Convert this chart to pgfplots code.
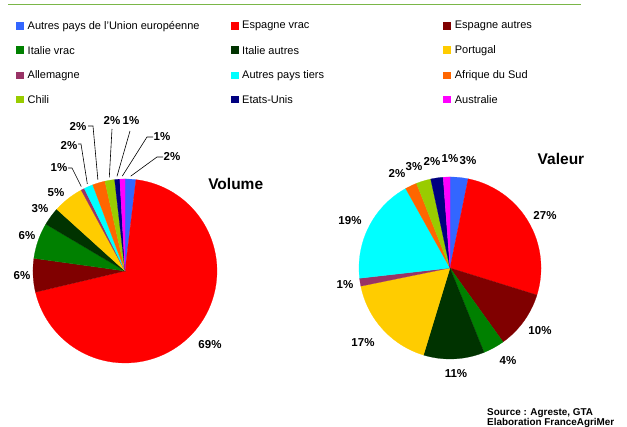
\documentclass[border=0pt]{standalone}
\usepackage{pgfplots}
\usepackage{pgfplotstable}
\pgfplotsset{compat=1.18}
\usepackage{fontspec}
\setmainfont{Liberation Sans}

\definecolor{cUE}{HTML}{3366FF}
\definecolor{cEspVrac}{HTML}{FF0000}
\definecolor{cEspAutres}{HTML}{800000}
\definecolor{cItVrac}{HTML}{008000}
\definecolor{cItAutres}{HTML}{003300}
\definecolor{cPortugal}{HTML}{FFCC00}
\definecolor{cAllemagne}{HTML}{993366}
\definecolor{cTiers}{HTML}{00FFFF}
\definecolor{cAfrique}{HTML}{FF6600}
\definecolor{cChili}{HTML}{99CC00}
\definecolor{cEtatsUnis}{HTML}{000080}
\definecolor{cAustralie}{HTML}{FF00FF}
\definecolor{topline}{HTML}{7AB648}

% shares in %, volume and value
\pgfplotstableread{
key        vol   val
UE         1.9   3.2
EspVrac    69.4  26.6
EspAutres  5.9   10.3
ItVrac     6.3   3.8
ItAutres   3.2   10.8
Portugal   5.4   17.1
Allemagne  0.6   1.4
Tiers      1.6   18.7
Afrique    2.2   2.1
Chili      1.7   2.6
EtatsUnis  0.9   2.2
Australie  0.9   1.2
}\pies

% #1 column, #2 radius ; slices clockwise from 12 o'clock
\newcommand\drawpie[2]{%
  \def\astart{90}%
  \pgfplotsforeachungrouped \i in {0,...,11}{%
    \pgfplotstablegetelem{\i}{#1}\of\pies \let\v\pgfplotsretval
    \pgfplotstablegetelem{\i}{key}\of\pies \let\k\pgfplotsretval
    \pgfmathsetmacro\aend{\astart-3.6*\v}%
    \edef\tmp{\noexpand\addplot[fill=c\k, draw=c\k, line width=0.2pt,
      domain=\aend:\astart, samples=80, variable=\noexpand\t]
      ({#2*cos(\noexpand\t)},{#2*sin(\noexpand\t)}) -- (0,0) -- cycle;}%
    \tmp
    \global\let\astart\aend
  }}

\newcommand\lbl[3]{\node[font=\bfseries\fontsize{11.5}{12}\selectfont, inner sep=0pt] at (#1,#2) {#3};}
\newcommand\leg[4]{%
  \fill[#3] (#1-4,#2-3.8) rectangle (#1+4,#2+3.8);
  \node[anchor=west, inner sep=0pt, font=\fontsize{11}{12}\selectfont] at (#1+7.5,#2) {#4};}

\begin{document}
\begin{tikzpicture}[x=1pt, y=1pt]
\path[use as bounding box] (0,0) rectangle (627,427);

\draw[topline, line width=1.8pt] (8,422.5) -- (581,422.5);

% legend
\leg{20}{400.7}{cUE}{Autres pays de l'Union européenne}
\leg{234.5}{400.7}{cEspVrac}{Espagne vrac}
\leg{447.2}{400.7}{cEspAutres}{Espagne autres}
\leg{20}{376.7}{cItVrac}{Italie vrac}
\leg{234.5}{376.7}{cItAutres}{Italie autres}
\leg{447.2}{376.7}{cPortugal}{Portugal}
\leg{20}{351.5}{cAllemagne}{Allemagne}
\leg{234.5}{351.5}{cTiers}{Autres pays tiers}
\leg{447.2}{351.5}{cAfrique}{Afrique du Sud}
\leg{20}{327.5}{cChili}{Chili}
\leg{234.5}{327.5}{cEtatsUnis}{Etats-Unis}
\leg{447.2}{327.5}{cAustralie}{Australie}

% Volume pie
\begin{axis}[at={(125pt,156pt)}, anchor=center, hide axis, scale only axis,
  width=184pt, height=184pt, xmin=-92, xmax=92, ymin=-92, ymax=92, clip=false]
\drawpie{vol}{92}
\end{axis}

% Valeur pie
\begin{axis}[at={(450pt,159pt)}, anchor=center, hide axis, scale only axis,
  width=182pt, height=182pt, xmin=-91, xmax=91, ymin=-91, ymax=91, clip=false]
\drawpie{val}{91}
\end{axis}

\node[font=\bfseries\fontsize{15.5}{16}\selectfont] at (235.7,243) {Volume};
\node[font=\bfseries\fontsize{15.5}{16}\selectfont] at (561,268) {Valeur};

% leader lines (volume)
\begin{scope}[line width=0.6pt]
\draw (68,259) -- (72,259) -- (81.3,240.4);
\draw (78,283) -- (81,283) -- (87.3,243.2);
\draw (88,301) -- (93,301) -- (97.9,247.1);
\draw (112,298) -- (109.3,249.7);
\draw (130,296) -- (117,250.7);
\draw (153,290) -- (147,290) -- (122.3,250.9);
\draw (163,270) -- (157,270) -- (130.7,250.8);
\end{scope}

% volume labels
\lbl{210}{82}{69\%}
\lbl{22}{151}{6\%}
\lbl{27}{191}{6\%}
\lbl{40}{218}{3\%}
\lbl{56}{234}{5\%}
\lbl{59}{259}{1\%}
\lbl{69}{281}{2\%}
\lbl{78}{300}{2\%}
\lbl{112}{306}{2\%}
\lbl{131}{306}{1\%}
\lbl{162}{290}{1\%}
\lbl{172}{270}{2\%}

% value labels
\lbl{468}{266}{3\%}
\lbl{450}{268}{1\%}
\lbl{432}{265}{2\%}
\lbl{414}{260}{3\%}
\lbl{397}{253}{2\%}
\lbl{350}{206}{19\%}
\lbl{545}{211}{27\%}
\lbl{540}{96}{10\%}
\lbl{508}{66}{4\%}
\lbl{456}{53}{11\%}
\lbl{363}{84}{17\%}
\lbl{345}{142}{1\%}

\node[anchor=base west, inner sep=0pt, font=\bfseries\fontsize{9.9}{10}\selectfont] at (487,11) {Source : Agreste, GTA};
\node[anchor=base west, inner sep=0pt, font=\bfseries\fontsize{9.9}{10}\selectfont] at (487,1) {Elaboration FranceAgriMer};
\end{tikzpicture}
\end{document}
